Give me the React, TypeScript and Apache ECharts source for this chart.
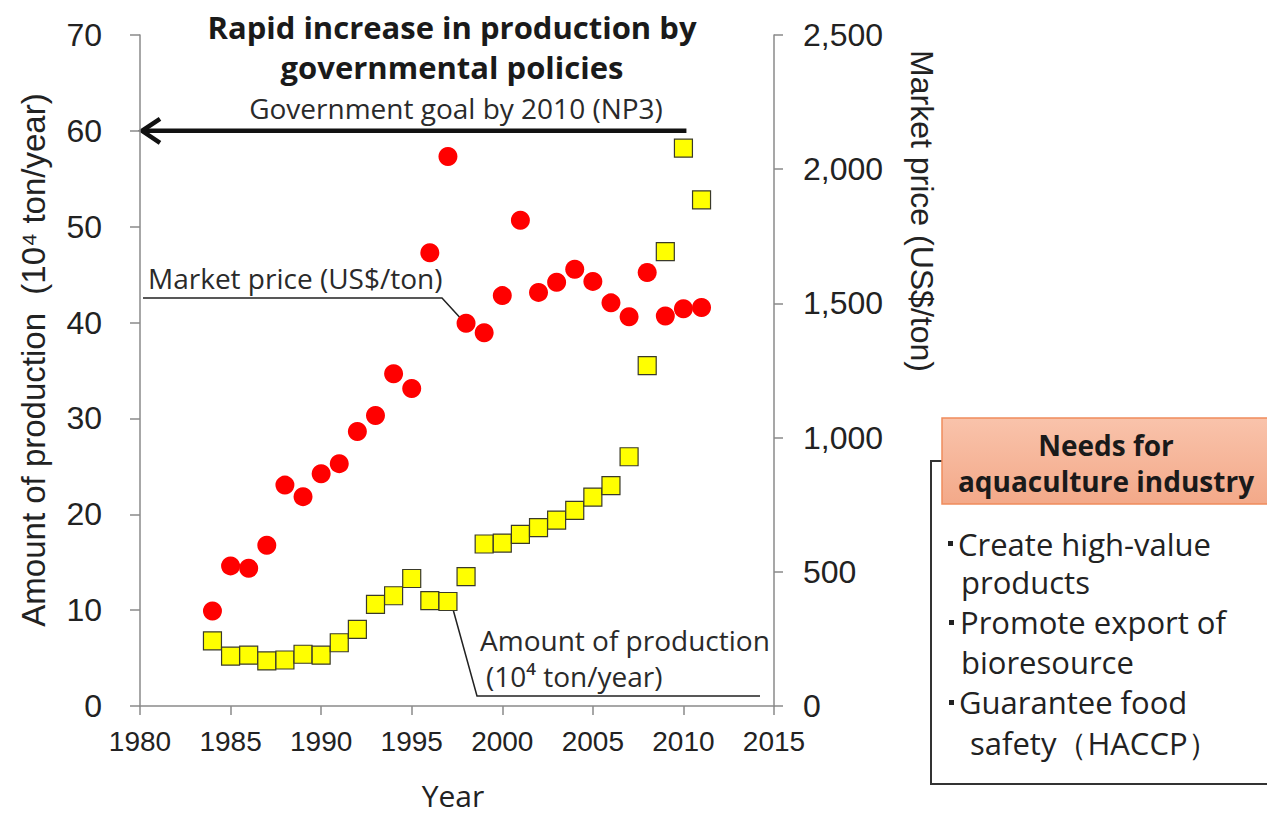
import React, { useEffect, useRef } from "react";
import * as echarts from "echarts";

const years = [1984, 1985, 1986, 1987, 1988, 1989, 1990, 1991, 1992, 1993, 1994, 1995, 1996, 1997, 1998, 1999, 2000, 2001, 2002, 2003, 2004, 2005, 2006, 2007, 2008, 2009, 2010, 2011];
const production = [6.8, 5.2, 5.3, 4.7, 4.8, 5.4, 5.3, 6.6, 8.0, 10.6, 11.5, 13.3, 11.0, 10.9, 13.5, 16.9, 17.0, 17.9, 18.6, 19.4, 20.4, 21.8, 23.0, 26.0, 35.5, 47.4, 58.2, 52.8];
const price = [354, 522, 513, 599, 823, 780, 865, 903, 1023, 1082, 1238, 1183, 1689, 2047, 1426, 1391, 1529, 1810, 1541, 1579, 1627, 1582, 1502, 1450, 1615, 1453, 1480, 1485];

const xMin = 1980, xMax = 2015, xStep = 5;
const prodMax = 70, prodStep = 10;
const priceMax = 2500, priceStep = 500;

const titleLines = ["Rapid increase in production by", "governmental policies"];
const goalLabel = "Government goal by 2010 (NP3)";
const goalValue = 60;
const needsTitle = ["Needs for", "aquaculture industry"];

const ANN_FONT = "'Open Sans', 'Noto Sans', sans-serif";
const AXIS_FONT = "'Liberation Sans', Arial, sans-serif";

export default function App() {
  const ref = useRef<HTMLDivElement>(null);
  useEffect(() => {
    const chart = echarts.init(ref.current!, null, { renderer: "svg" });
    const axisLineStyle = { color: "#8a8a8a", width: 1.5 };
    chart.setOption({
      animation: false,
      backgroundColor: "#ffffff",
      grid: { left: 140, right: 493, top: 35, bottom: 108, containLabel: false },
      xAxis: {
        type: "value",
        min: xMin,
        max: xMax,
        interval: xStep,
        axisLine: { show: true, onZero: false, lineStyle: axisLineStyle },
        axisTick: { show: true, length: 9, lineStyle: axisLineStyle },
        splitLine: { show: false },
        axisLabel: { fontSize: 28, color: "#222", fontFamily: AXIS_FONT, margin: 21, formatter: (v: number) => String(v) },
      },
      yAxis: [
        {
          type: "value",
          min: 0,
          max: prodMax,
          interval: prodStep,
          position: "left",
          axisLine: { show: true, lineStyle: axisLineStyle },
          axisTick: { show: true, length: 10, lineStyle: axisLineStyle },
          splitLine: { show: false },
          axisLabel: { fontSize: 32, color: "#222", fontFamily: AXIS_FONT, margin: 38 },
        },
        {
          type: "value",
          min: 0,
          max: priceMax,
          interval: priceStep,
          position: "right",
          axisLine: { show: true, lineStyle: axisLineStyle },
          axisTick: { show: true, length: 9, lineStyle: axisLineStyle },
          splitLine: { show: false },
          axisLabel: {
            fontSize: 32,
            color: "#222",
            fontFamily: AXIS_FONT,
            margin: 29,
            formatter: (v: number) => v.toLocaleString("en-US"),
          },
        },
      ],
      series: [
        {
          name: "Market price (US$/ton)",
          type: "scatter",
          yAxisIndex: 1,
          symbol: "circle",
          symbolSize: 19,
          itemStyle: { color: "#ff0000", opacity: 1 },
          data: years.map((y, i) => [y, price[i]]),
          z: 2,
        },
        {
          name: "Amount of production",
          type: "scatter",
          yAxisIndex: 0,
          symbol: "rect",
          symbolSize: 18,
          itemStyle: { color: "#ffff00", borderColor: "#3a3a2a", borderWidth: 1.2, opacity: 1 },
          data: years.map((y, i) => [y, production[i]]),
          z: 3,
        },
      ],
    });

    const p = (x: number, y: number, axis = 0) =>
      chart.convertToPixel({ xAxisIndex: 0, yAxisIndex: axis }, [x, y]) as number[];
    const goalL = p(xMin, goalValue);
    const goalR = p(2010, goalValue);
    const gy = goalL[1];

    chart.setOption({
      graphic: [
        // title
        {
          type: "text", x: 452, y: 27,
          style: { text: titleLines[0], font: `bold 31px ${ANN_FONT}`, fill: "#1a1a1a", align: "center", verticalAlign: "middle" },
        },
        {
          type: "text", x: 452, y: 67,
          style: { text: titleLines[1], font: `bold 31px ${ANN_FONT}`, fill: "#1a1a1a", align: "center", verticalAlign: "middle" },
        },
        {
          type: "text", x: 456, y: 108,
          style: { text: goalLabel, font: `28px ${ANN_FONT}`, fill: "#2a2a2a", align: "center", verticalAlign: "middle" },
        },
        // goal arrow
        {
          type: "line",
          shape: { x1: goalR[0] + 3, y1: gy, x2: goalL[0] + 3, y2: gy },
          style: { stroke: "#111", lineWidth: 4.5 },
        },
        {
          type: "polyline",
          shape: { points: [[goalL[0] + 20, gy - 12], [goalL[0] + 2, gy], [goalL[0] + 20, gy + 12]] },
          style: { stroke: "#111", lineWidth: 4.5, fill: null, lineJoin: "miter" },
        },
        // axis names
        {
          type: "text", x: 33, y: 360, rotation: Math.PI / 2,
          style: { text: "Amount of production  (10⁴ ton/year)", font: `33px ${AXIS_FONT}`, fill: "#222", align: "center", verticalAlign: "middle" },
        },
        {
          type: "text", x: 922, y: 211, rotation: -Math.PI / 2,
          style: { text: "Market price (US$/ton)", font: `32px ${AXIS_FONT}`, fill: "#222", align: "center", verticalAlign: "middle" },
        },
        {
          type: "text", x: 453, y: 795,
          style: { text: "Year", font: `30px ${ANN_FONT}`, fill: "#222", align: "center", verticalAlign: "middle" },
        },
        // market price annotation
        {
          type: "text", x: 148, y: 278,
          style: { text: "Market price (US$/ton)", font: `28px ${ANN_FONT}`, fill: "#2a2a2a", align: "left", verticalAlign: "middle" },
        },
        {
          type: "polyline",
          shape: { points: [[143, 298], [442, 298], [464, 322]] },
          style: { stroke: "#222", lineWidth: 1.5, fill: null },
        },
        // production annotation
        {
          type: "text", x: 480, y: 640,
          style: { text: "Amount of production", font: `28px ${ANN_FONT}`, fill: "#2a2a2a", align: "left", verticalAlign: "middle" },
        },
        {
          type: "text", x: 486, y: 676,
          style: { text: "(10⁴ ton/year)", font: `28px ${ANN_FONT}`, fill: "#2a2a2a", align: "left", verticalAlign: "middle" },
        },
        {
          type: "polyline",
          shape: { points: [[451, 602], [477, 696], [760, 696]] },
          style: { stroke: "#222", lineWidth: 1.5, fill: null },
        },
        // needs box
        {
          type: "polyline",
          shape: { points: [[942, 461], [931, 461], [931, 784], [1267, 784]] },
          style: { stroke: "#333", lineWidth: 2, fill: null },
        },
        {
          type: "rect",
          shape: { x: 942, y: 418, width: 340, height: 86 },
          style: {
            fill: new echarts.graphic.LinearGradient(0, 0, 0, 1, [
              { offset: 0, color: "#f9c3ab" },
              { offset: 1, color: "#f3a989" },
            ]),
            stroke: "#ef8c5c",
            lineWidth: 1.5,
          },
        },
        {
          type: "text", x: 1106, y: 445,
          style: { text: needsTitle[0], font: `bold 28px ${ANN_FONT}`, fill: "#1a1a1a", align: "center", verticalAlign: "middle" },
        },
        {
          type: "text", x: 1106, y: 481,
          style: { text: needsTitle[1], font: `bold 28px ${ANN_FONT}`, fill: "#1a1a1a", align: "center", verticalAlign: "middle" },
        },
        { type: "rect", shape: { x: 948, y: 541, width: 5, height: 5 }, style: { fill: "#222" } },
        { type: "rect", shape: { x: 949, y: 620, width: 5, height: 5 }, style: { fill: "#222" } },
        { type: "rect", shape: { x: 949, y: 700, width: 5, height: 5 }, style: { fill: "#222" } },
        {
          type: "text", x: 958, y: 544,
          style: { text: "Create high-value", font: `31px ${ANN_FONT}`, fill: "#222", align: "left", verticalAlign: "middle" },
        },
        {
          type: "text", x: 961, y: 582,
          style: { text: "products", font: `31px ${ANN_FONT}`, fill: "#222", align: "left", verticalAlign: "middle" },
        },
        {
          type: "text", x: 960, y: 622,
          style: { text: "Promote export of", font: `31px ${ANN_FONT}`, fill: "#222", align: "left", verticalAlign: "middle" },
        },
        {
          type: "text", x: 961, y: 662,
          style: { text: "bioresource", font: `31px ${ANN_FONT}`, fill: "#222", align: "left", verticalAlign: "middle" },
        },
        {
          type: "text", x: 959, y: 702,
          style: { text: "Guarantee food", font: `31px ${ANN_FONT}`, fill: "#222", align: "left", verticalAlign: "middle" },
        },
        {
          type: "text", x: 970, y: 743,
          style: { text: "safety（HACCP）", font: `31px ${ANN_FONT}`, fill: "#222", align: "left", verticalAlign: "middle" },
        },
      ],
    });
    return () => chart.dispose();
  }, []);
  return (
    <div
      ref={ref}
      style={{ position: "fixed", left: 0, top: 0, width: 1267, height: 814, background: "#fff" }}
    />
  );
}
